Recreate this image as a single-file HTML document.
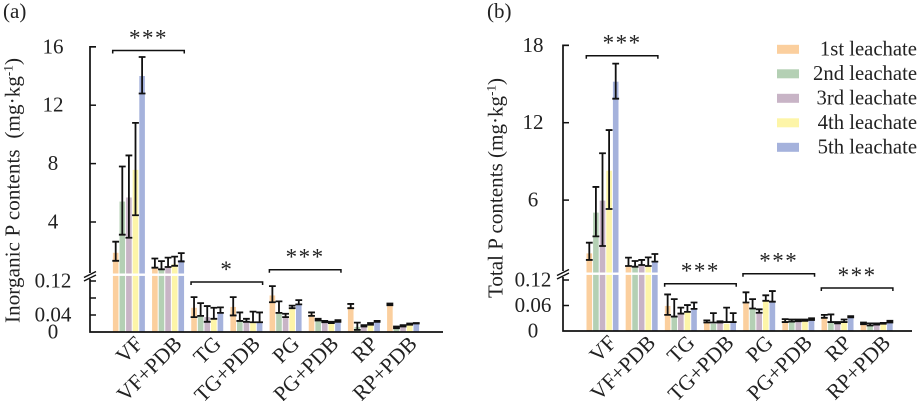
<!DOCTYPE html>
<html lang="en">
<head>
<meta charset="utf-8">
<title>Inorganic and total P contents by leachate</title>
<style>
html,body{margin:0;padding:0;background:#fff;width:920px;height:401px;overflow:hidden}
svg{display:block}
text{font-family:"Liberation Serif",serif;fill:#222}
</style>
</head>
<body>
<svg id="chart" width="920" height="401" viewBox="0 0 920 401" xmlns="http://www.w3.org/2000/svg">
  <text x="3" y="18" font-size="21">(a)</text>
  <text x="487" y="18" font-size="21">(b)</text>
  <text transform="translate(19.5,323) rotate(-90)" font-size="21" textLength="265" lengthAdjust="spacing" xml:space="preserve">Inorganic P contents  (mg·kg<tspan font-size="13" dy="-7">-1</tspan><tspan dy="7">)</tspan></text>
  <text transform="translate(502.5,298) rotate(-90)" font-size="21" textLength="220" lengthAdjust="spacing">Total P contents (mg·kg<tspan font-size="13" dy="-7">-1</tspan><tspan dy="7">)</tspan></text>
  <g id="legend"></g>
  <g id="panelA"></g>
  <g id="panelB"></g>
</svg>
<script>
const categories = ['VF','VF+PDB','TG','TG+PDB','PG','PG+PDB','RP','RP+PDB'];
const seriesNames = ['1st leachate','2nd leachate','3rd leachate','4th leachate','5th leachate'];
const seriesColors = ['#fbcf9e','#b4d0b4','#c8b4c6','#fdf5a8','#a5b2dc'];

const aUpperTicks = [4,8,12,16];
const aLowerTicks = [0,0.04,0.08,0.12];
const aLowerTickLabels = ['0','0.04','','0.12'];
const bUpperTicks = [6,12,18];
const bLowerTicks = [0,0.06,0.12];
const bLowerTickLabels = ['0','0.06','0.12'];

const aMeans = [
  [1.89,5.4,5.68,7.57,14],
  [0.9,0.8,0.98,1.1,1.4],
  [.057,.039,.035,.031,.047],
  [.059,.026,.026,.021,.024],
  [.086,.045,.037,.057,.067],
  [.041,.029,.024,.022,.026],
  [.059,.012,.015,.019,.024],
  [.064,.010,.015,.018,.020]
];
const aErrHigh = [
  [2.65,7.8,8.56,10.79,15.3],
  [1.5,1.32,1.56,1.63,1.87],
  [.082,.068,.061,.057,.058],
  [.082,.046,.031,.048,.046],
  [.108,.072,.043,.062,.075],
  [.046,.031,.026,.024,.028],
  [.066,.022,.016,.021,.026],
  [.067,.013,.016,.020,.021]
];
const aErrLow = [
  [1.34,3.13,2.92,4.46,12.8],
  [0.87,0.76,0.92,1.0,1.3],
  [.035,.038,.024,.031,.045],
  [.039,.026,.024,.023,.023],
  [.070,.045,.035,.056,.065],
  [.038,.027,.023,.021,.024],
  [.056,.005,.013,.017,.024],
  [.063,.009,.013,.017,.020]
];

const bMeans = [
  [1.87,5.03,5.96,8.28,15.18],
  [.89,.84,.97,.89,1.23],
  [.059,.035,.039,.045,.053],
  [.020,.017,.021,.017,.021],
  [.067,.053,.043,.071,.071],
  [.024,.024,.024,.025,.027],
  [.031,.020,.019,.022,.033],
  [.017,.014,.016,.017,.021]
];
const bErrHigh = [
  [2.7,7.02,9.63,11.43,16.58],
  [1.54,1.28,1.36,1.56,1.82],
  [.086,.075,.055,.061,.067],
  [.025,.042,.023,.055,.042],
  [.091,.075,.051,.084,.094],
  [.028,.027,.027,.027,.030],
  [.038,.039,.021,.027,.035],
  [.020,.018,.018,.019,.024]
];
const bErrLow = [
  [1.36,3.19,2.44,5.31,13.86],
  [.89,.84,.97,.89,1.23],
  [.038,.034,.041,.045,.052],
  [.020,.020,.020,.021,.021],
  [.067,.053,.043,.071,.069],
  [.021,.022,.023,.024,.026],
  [.031,.021,.018,.021,.032],
  [.016,.013,.015,.017,.020]
];

const SVGNS = 'http://www.w3.org/2000/svg';

function mk(parent, tag, attrs, txt) {
  const node = document.createElementNS(SVGNS, tag);
  for (const k in attrs) node.setAttribute(k, attrs[k]);
  if (txt !== undefined) node.textContent = txt;
  parent.appendChild(node);
  return node;
}

function slug(s) {
  return s.toLowerCase().replace(/\+/g, '-').replace(/[^a-z0-9-]/g, '-');
}

function drawPanel(root, cfg) {
  const yVal = v => v <= cfg.breakValue ? cfg.y0 - v * cfg.lowerScale : cfg.upperZero - v * cfg.upperScale;
  const xBar = (g, s) => cfg.x0 + g * 39.17 + s * 6.6;

  // bars
  categories.forEach((cat, g) => {
    seriesNames.forEach((name, s) => {
      const top = yVal(cfg.means[g][s]);
      const bar = mk(root, 'rect', {x: xBar(g, s) - 2.8, y: top, width: 5.6, height: cfg.y0 - top, fill: seriesColors[s]});
      
      
    });
  });

  // white break gap
  const gap = mk(root, 'rect', {x: cfg.axisX + 2, y: cfg.gapY, width: cfg.axisEnd - cfg.axisX - 2, height: 2.4, fill: '#fff'});
  
  

  // error bars
  categories.forEach((cat, g) => {
    seriesNames.forEach((name, s) => {
      const cx = xBar(g, s);
      const hi = yVal(cfg.high[g][s]);
      const lo = yVal(cfg.low[g][s]);
      const eb = mk(root, 'path', {d: 'M' + (cx - 3.4) + ' ' + hi + 'H' + (cx + 3.4) + 'M' + cx + ' ' + hi + 'V' + lo + 'M' + (cx - 3.4) + ' ' + lo + 'H' + (cx + 3.4), stroke: '#111', 'stroke-width': 1.8, fill: 'none'});
      
      
    });
  });

  // axes
  const yAxis = mk(root, 'path', {d: 'M' + (cfg.axisX + 6) + ' ' + yVal(cfg.upperTicks[cfg.upperTicks.length - 1]) + 'H' + cfg.axisX + 'V' + cfg.breakTop + 'M' + cfg.axisX + ' ' + cfg.breakBottom + 'V' + cfg.y0 + 'H' + cfg.axisEnd, stroke: '#111', 'stroke-width': 1.7, fill: 'none'});
  
  

  const brk = mk(root, 'path', {d: 'M' + (cfg.axisX - 6) + ' ' + (cfg.breakTop + 4.5) + 'l12 -6M' + (cfg.axisX - 6) + ' ' + (cfg.breakTop + 8) + 'l12 -6', stroke: '#111', 'stroke-width': 1.5, fill: 'none'});
  
  

  // ticks
  cfg.upperTicks.forEach(v => {
    const y = yVal(v);
    const tick = mk(root, 'line', {x1: cfg.axisX, x2: cfg.axisX + 6, y1: y, y2: y, stroke: '#111', 'stroke-width': 1.5});
    
    
    const label = mk(root, 'text', {x: cfg.labelX, y: y + 6.5, 'font-size': 21, 'text-anchor': 'middle'}, String(v));
    
    
  });
  cfg.lowerTicks.forEach((v, i) => {
    const y = yVal(v);
    if (v > 0) {
      const tick = mk(root, 'line', {x1: cfg.axisX, x2: cfg.axisX + 6, y1: y, y2: y, stroke: '#111', 'stroke-width': 1.5});
      
      
    }
    if (cfg.lowerLabels[i]) {
      const label = mk(root, 'text', {x: cfg.labelX, y: y + 6.5, 'font-size': 21, 'text-anchor': 'middle'}, cfg.lowerLabels[i]);
      
      
    }
  });

  // category labels
  categories.forEach((cat, g) => {
    const tx = xBar(g, 2) + 15;
    const ty = cfg.y0 + 13;
    const label = mk(root, 'text', {transform: 'translate(' + tx + ',' + ty + ') rotate(-45)', 'font-size': 21.5, 'text-anchor': 'end'}, cat);
    
    
  });

  // significance brackets
  cfg.brackets.forEach(b => {
    const x1 = xBar(b.from, 0) - 3;
    const x2 = xBar(b.to, 4) + 3;
    const br = mk(root, 'path', {d: 'M' + x1 + ' ' + (b.y + 3) + 'V' + b.y + 'H' + x2 + 'V' + (b.y + 3), stroke: '#111', 'stroke-width': 1.5, fill: 'none'});
    
    
    const st = mk(root, 'text', {x: (x1 + x2) / 2, y: b.y - 5, 'font-size': 23, 'text-anchor': 'middle', 'letter-spacing': 1.5}, b.stars);
    
    
  });
}

drawPanel(document.getElementById('panelA'), {
  means: aMeans, high: aErrHigh, low: aErrLow,
  upperTicks: aUpperTicks, lowerTicks: aLowerTicks, lowerLabels: aLowerTickLabels,
  x0: 115.7, y0: 332, lowerScale: 425, upperZero: 280.4, upperScale: 14.6, breakValue: 0.2,
  axisX: 90, axisEnd: 443, labelX: 53, gapY: 273.5, breakTop: 273, breakBottom: 279,
  brackets: [
    {from: 0, to: 1, y: 50.5, stars: '***'},
    {from: 2, to: 3, y: 282, stars: '*'},
    {from: 4, to: 5, y: 269.7, stars: '***'}
  ]
});

drawPanel(document.getElementById('panelB'), {
  means: bMeans, high: bErrHigh, low: bErrLow,
  upperTicks: bUpperTicks, lowerTicks: bLowerTicks, lowerLabels: bLowerTickLabels,
  x0: 589.3, y0: 331, lowerScale: 425, upperZero: 277.5, upperScale: 12.9, breakValue: 0.2,
  axisX: 563, axisEnd: 912, labelX: 533, gapY: 272.5, breakTop: 271, breakBottom: 277,
  brackets: [
    {from: 0, to: 1, y: 55.7, stars: '***'},
    {from: 2, to: 3, y: 283.7, stars: '***'},
    {from: 4, to: 5, y: 273.7, stars: '***'},
    {from: 6, to: 7, y: 288, stars: '***'}
  ]
});

const legendRoot = document.getElementById('legend');
seriesNames.forEach((name, i) => {
  const cy = 49.3 + i * 24.5;
  const swatch = mk(legendRoot, 'rect', {x: 777, y: cy - 4.5, width: 22, height: 9, fill: seriesColors[i]});
  
  
  const label = mk(legendRoot, 'text', {x: 917, y: cy + 6, 'font-size': 20.7, 'text-anchor': 'end'}, name);
  
  
});
</script>
</body>
</html>
